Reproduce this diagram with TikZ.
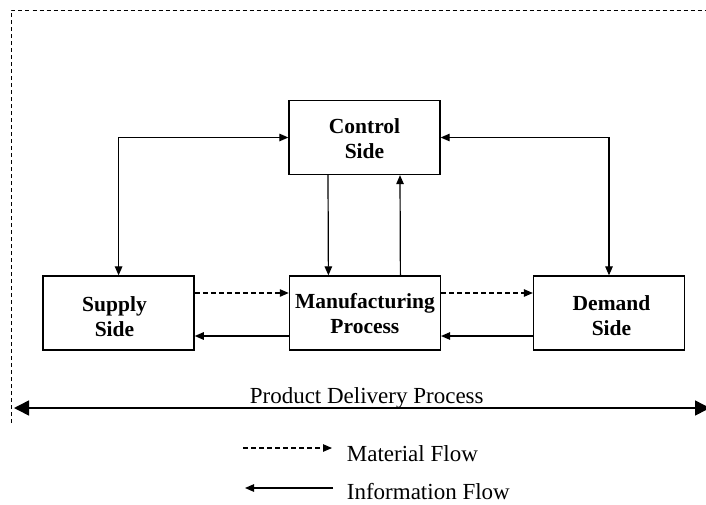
\documentclass[tikz,border=0pt]{standalone}
\usepackage{fontspec}
\setmainfont{Liberation Serif}
\usetikzlibrary{arrows.meta}
\begin{document}
\begin{tikzpicture}[x=1pt,y=-1pt,
  box/.style={draw, line width=1.3pt, minimum width=151pt, minimum height=74pt, inner sep=0pt},
  boxtext/.style={inner sep=0pt, align=center, font=\fontsize{21.5}{25}\selectfont\bfseries},
  flow/.style={line width=1.2pt, -{Triangle[length=9pt,width=7.5pt]}},
  biflow/.style={line width=1.2pt, {Triangle[length=9pt,width=7.5pt]}-{Triangle[length=9pt,width=7.5pt]}},
  matflow/.style={line width=1.1pt, dash pattern=on 5pt off 3pt, -{Triangle[length=9pt,width=7.5pt]}},
  bigflow/.style={line width=1.5pt, {Triangle[length=15pt,width=15pt]}-{Triangle[length=15pt,width=15pt]}},
  border/.style={line width=0.9pt, dash pattern=on 4pt off 3pt},
  lbl/.style={font=\fontsize{23}{27}\selectfont, inner sep=0pt}
]
\useasboundingbox (0,0) rectangle (706,504);

% dashed frame
\coordinate (fb) at (11.5,423);
\coordinate (fc) at (11.5,10);
\coordinate (fr) at (708,10);
\draw[border] (fb) -- (fc) -- (fr);

% boxes
\node[box] (control) at (364.5,137.5) {};
\node[box] (supply)  at (118.6,313) {};
\node[box] (mfg)     at (364.9,313) {};
\node[box] (demand)  at (609,313) {};
\node[boxtext] (controltxt) at (364.5,138.5) {Control\\Side};
\node[boxtext] (supplytxt)  at (114.5,317) {Supply\\Side};
\node[boxtext] (mfgtxt)     at (364.9,313.5) {Manufacturing\\Process};
\node[boxtext] (demandtxt)  at (611.5,316) {Demand\\Side};

% control links
\draw[biflow] (control.west) -| (supply.north);
\draw[biflow] (control.east) -| (demand.north);
\draw[flow] ([xshift=-36.5pt]control.south) -- ([xshift=-36.5pt]mfg.north);
\draw[flow] ([xshift=35.5pt]mfg.north) -- ([xshift=35.5pt]control.south);

% material flows
\draw[matflow] ([yshift=20pt]supply.east) -- ([yshift=20pt]mfg.west);
\draw[matflow] ([yshift=20pt]mfg.east) -- ([yshift=20pt]demand.west);

% information flows
\draw[flow] ([yshift=-23pt]mfg.west) -- ([yshift=-23pt]supply.east);
\draw[flow] ([yshift=-23pt]demand.west) -- ([yshift=-23pt]mfg.east);

% product delivery process
\coordinate (pl) at (14,408);
\coordinate (pr) at (710,408);
\draw[bigflow] (pl) -- (pr);
\node[lbl, anchor=base] (pdp) at (366.7,403) {Product Delivery Process};

% legend
\coordinate (m1) at (243,448);
\coordinate (m2) at (332,448);
\draw[matflow] (m1) -- (m2);
\node[lbl, anchor=base west] (mtxt) at (346.7,461) {Material Flow};
\coordinate (i1) at (333,488);
\coordinate (i2) at (245,488);
\draw[flow] (i1) -- (i2);
\node[lbl, anchor=base west] (itxt) at (346.7,499) {Information Flow};
\end{tikzpicture}
\end{document}
